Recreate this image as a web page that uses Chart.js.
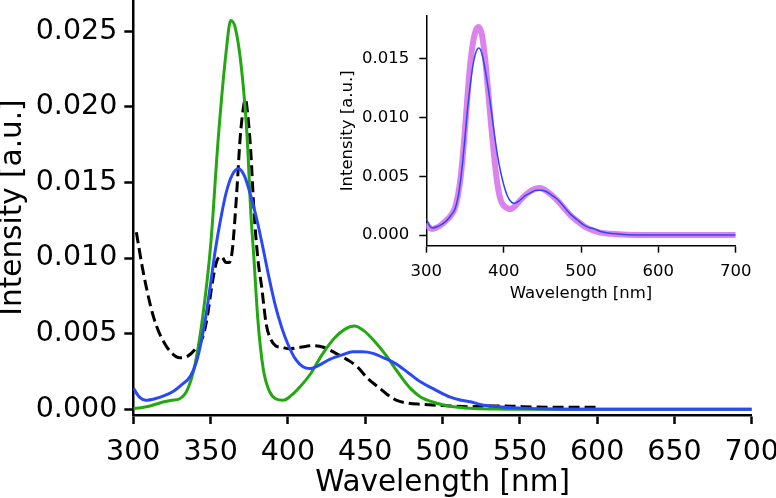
<!DOCTYPE html>
<html>
<head>
<meta charset="utf-8">
<script src="https://cdn.jsdelivr.net/npm/chart.js@4.4.0/dist/chart.umd.min.js"></script>
<style>
  html, body { margin: 0; padding: 0; background: #fff; overflow: hidden; }
  /* shifted up so the y spine reaches the top edge like the original */
  #main { position: absolute; left: 0; top: -7px; width: 786px; height: 505px; }
  #inset { position: absolute; left: 330px; top: 0; width: 446px; height: 310px; }
</style>
</head>
<body>
<div id="main"><canvas id="mainChart"></canvas></div>
<div id="inset"><canvas id="insetChart"></canvas></div>
<script>
// green solid curve
const greenWl  = [300, 305, 310, 315, 320, 325, 330, 335, 340, 345, 350, 355, 360, 363, 366, 370, 373.5, 376, 378, 380.5, 384, 388, 392, 397, 402, 408, 415, 422, 430, 437, 443, 449, 456, 464, 470, 475, 480, 486, 493, 500, 510, 520, 540, 560, 600, 650, 700];
const greenInt = [0.00005, 0.0001, 0.0002, 0.00035, 0.0005, 0.0006, 0.0007, 0.0013, 0.0030, 0.0062, 0.0108, 0.0180, 0.0236, 0.0257, 0.0252, 0.0225, 0.0182, 0.0130, 0.0100, 0.0060, 0.0027, 0.0012, 0.0007, 0.0006, 0.0009, 0.0015, 0.0024, 0.0036, 0.0047, 0.0053, 0.0055, 0.0052, 0.0045, 0.0035, 0.0026, 0.0019, 0.0013, 0.0008, 0.0005, 0.0003, 0.00013, 0.00005, 0.00001, 0, 0, 0, 0];

// blue solid curve (same in the inset)
const blueWl  = [300, 304, 308, 314, 320, 326, 331, 337, 341, 344, 347, 350, 353, 356, 360, 364, 368, 372, 376, 380, 384, 388, 392, 396, 400, 405, 410, 414, 420, 427, 435, 442, 448, 455, 462, 470, 478, 486, 495, 505, 512, 518, 525, 535, 545, 560, 580, 620, 660, 700];
const blueInt = [0.0014, 0.0008, 0.0006, 0.0007, 0.0009, 0.0012, 0.0016, 0.0022, 0.0032, 0.0045, 0.0062, 0.0083, 0.0105, 0.0123, 0.0143, 0.0155, 0.0159, 0.0154, 0.0141, 0.0125, 0.0106, 0.0086, 0.0068, 0.0054, 0.0043, 0.0033, 0.0028, 0.0027, 0.0029, 0.0033, 0.0036, 0.0038, 0.0038, 0.0037, 0.0034, 0.0030, 0.0024, 0.0018, 0.0013, 0.0008, 0.0006, 0.0005, 0.0003, 0.00018, 0.0001, 0.00003, 0, 0, 0, 0];

// black dashed curve
const dashWl  = [302, 306, 311, 315, 320, 325, 330, 335, 341, 345, 348, 351, 354, 357, 360, 362, 364, 367, 369, 371, 372.5, 374, 376, 378, 380.5, 383, 386, 389, 392, 396, 401, 408, 416, 423, 431, 438, 445, 451, 458, 464, 470, 478, 486, 500, 518, 530, 545, 560, 580, 600];
const dashInt = [0.0117, 0.0093, 0.0069, 0.0055, 0.0044, 0.0037, 0.0034, 0.0035, 0.0041, 0.0048, 0.0062, 0.0083, 0.0098, 0.0101, 0.0097, 0.0097, 0.0105, 0.0145, 0.0178, 0.0198, 0.0205, 0.0195, 0.0170, 0.0132, 0.0100, 0.0081, 0.0056, 0.0046, 0.0042, 0.0041, 0.0040, 0.0041, 0.0042, 0.0041, 0.0037, 0.0033, 0.0028, 0.0021, 0.0015, 0.0010, 0.0006, 0.0004, 0.00033, 0.00025, 0.00017, 0.00022, 0.0002, 0.00015, 0.00013, 0.00013];

// violet thick curve (inset only)
const violetWl  = [300, 303, 307, 312, 318, 325, 331, 337, 341, 344, 347, 350, 353, 356, 360, 364, 368, 372, 376, 380, 384, 388, 392, 396, 400, 404, 408, 412, 418, 425, 432, 440, 447, 454, 462, 470, 478, 486, 495, 505, 515, 525, 540, 560, 580, 620, 660, 700];
const violetInt = [0.0010, 0.0007, 0.0005, 0.0006, 0.0008, 0.0012, 0.0016, 0.0023, 0.0034, 0.0047, 0.0066, 0.0090, 0.0116, 0.0140, 0.0162, 0.0174, 0.0177, 0.0170, 0.0150, 0.0122, 0.0092, 0.0065, 0.0043, 0.0030, 0.0025, 0.0023, 0.0022, 0.0023, 0.0027, 0.0032, 0.0036, 0.0039, 0.0040, 0.0038, 0.0034, 0.0029, 0.0023, 0.0017, 0.0012, 0.0007, 0.0004, 0.0002, 0.0001, 0.00003, 0, 0, 0, 0];

const mainXTicks = [300, 350, 400, 450, 500, 550, 600, 650, 700];
const insetXTicks = [300, 400, 500, 600, 700];

const FONT = "'DejaVu Sans', sans-serif";

function toPoints(xs, ys) {
    return xs.map((x, i) => ({ x: x, y: ys[i] }));
}

function curve(xs, ys, color, width, dash) {
    return {
        data: toPoints(xs, ys),
        borderColor: color,
        borderWidth: width,
        borderDash: dash || [],
        pointRadius: 0,
        fill: false,
        cubicInterpolationMode: 'monotone'
    };
}

function fixTicks(list) {
    return function (scale) {
        scale.ticks = list.map(v => ({ value: v }));
    };
}

// main chart
new Chart(document.getElementById('mainChart'), {
    type: 'line',
    data: {
        datasets: [
            curve(blueWl, blueInt, '#2a48f5', 3),
            curve(greenWl, greenInt, '#24a812', 3),
            curve(dashWl, dashInt, '#000000', 3, [11, 5])
        ]
    },
    options: {
        responsive: true,
        maintainAspectRatio: false,
        animation: false,
        layout: { padding: 0 },
        plugins: { legend: { display: false }, tooltip: { enabled: false } },
        scales: {
            x: {
                type: 'linear',
                min: 300,
                max: 700,
                afterBuildTicks: fixTicks(mainXTicks),
                afterFit: s => { s.height = 83; },
                grid: { drawOnChartArea: false, drawTicks: true, tickLength: 9, tickWidth: 2.5, tickColor: '#000' },
                border: { display: true, color: '#000', width: 2.5 },
                // larger lineHeight only pushes the labels down a little
                ticks: { color: '#000', font: { family: FONT, size: 28.5, lineHeight: 1.55 }, padding: 7, autoSkip: false, maxRotation: 0 },
                title: { display: true, text: 'Wavelength [nm]', color: '#000', font: { family: FONT, size: 29.5, lineHeight: 0.9 }, padding: { top: 0, bottom: 1 } }
            },
            y: {
                type: 'linear',
                min: -0.000377,
                max: 0.02705,
                ticks: { stepSize: 0.005, includeBounds: false, color: '#000', font: { family: FONT, size: 28.5, lineHeight: 0.01 }, padding: 7, callback: v => v.toFixed(3) },
                afterFit: s => { s.width = 133.3; },
                grid: { drawOnChartArea: false, drawTicks: true, tickLength: 9, tickWidth: 2.5, tickColor: '#000' },
                border: { display: true, color: '#000', width: 2.5 },
                title: { display: true, text: 'Intensity [a.u.]', color: '#000', font: { family: FONT, size: 29.5, lineHeight: 0.9 }, padding: { top: 0, bottom: 0 } }
            }
        }
    }
});

// inset chart
new Chart(document.getElementById('insetChart'), {
    type: 'line',
    data: {
        datasets: [
            curve(blueWl, blueInt, '#2a48f5', 1.5),
            curve(violetWl, violetInt, '#dc82ec', 6)
        ]
    },
    options: {
        responsive: true,
        maintainAspectRatio: false,
        animation: false,
        layout: { padding: { top: 16, right: 40.3, left: 0, bottom: 0 } },
        plugins: { legend: { display: false }, tooltip: { enabled: false } },
        scales: {
            x: {
                type: 'linear',
                min: 300,
                max: 700,
                afterBuildTicks: fixTicks(insetXTicks),
                afterFit: s => { s.height = 64.3; },
                grid: { drawOnChartArea: false, drawTicks: true, tickLength: 7, tickWidth: 1.5, tickColor: '#000' },
                border: { display: true, color: '#000', width: 1.5 },
                ticks: { color: '#000', font: { family: FONT, size: 16.5 }, padding: 9, autoSkip: false, maxRotation: 0 },
                title: { display: true, text: 'Wavelength [nm]', color: '#000', font: { family: FONT, size: 16.5, lineHeight: 1 }, padding: { top: 0, bottom: 8 } }
            },
            y: {
                type: 'linear',
                min: -0.00091,
                max: 0.01863,
                ticks: { stepSize: 0.005, includeBounds: false, color: '#000', font: { family: FONT, size: 16.5, lineHeight: 0.01 }, padding: 10, callback: v => v.toFixed(3) },
                afterFit: s => { s.width = 96.3; },
                grid: { drawOnChartArea: false, drawTicks: true, tickLength: 7, tickWidth: 1.5, tickColor: '#000' },
                border: { display: true, color: '#000', width: 1.5 },
                title: { display: true, text: 'Intensity [a.u.]', color: '#000', font: { family: FONT, size: 16.5, lineHeight: 1 }, padding: { top: 9, bottom: 0 } }
            }
        }
    }
});
</script>
</body>
</html>
